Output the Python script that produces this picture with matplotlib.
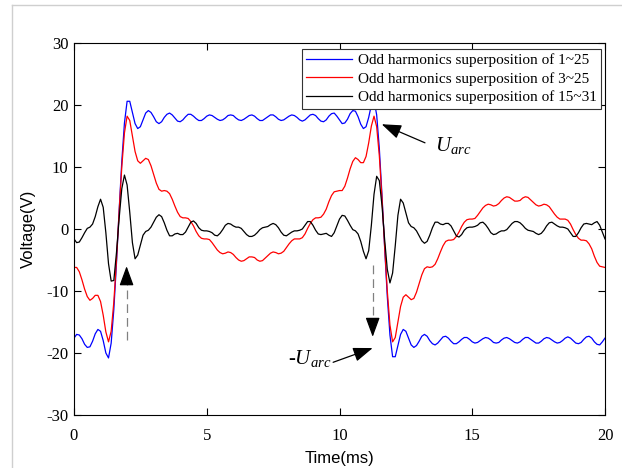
import numpy as np
import matplotlib
matplotlib.use("Agg")
import matplotlib.pyplot as plt
from matplotlib.lines import Line2D

# sampled waveforms, 0.1 ms step over one 20 ms period
t = np.linspace(0, 20, 201)

v_1_25 = [
    -17.6, -17.0, -17.1, -17.7, -18.6, -19.1, -19.0, -18.1, -16.9, -16.2,
    -16.5, -18.0, -20.0, -20.8, -18.4, -13.0, -5.5,
    3.0, 10.9, 17.1, 20.6, 20.6, 18.8, 17.0, 16.2, 16.5, 17.6,
    18.7, 19.1, 18.8, 18.1, 17.3, 17.0, 17.3, 18.0, 18.5, 18.7,
    18.4, 17.9, 17.4, 17.3, 17.6, 18.1, 18.5, 18.5, 18.2, 17.8,
    17.5, 17.5, 17.8, 18.2, 18.4, 18.3, 18.0, 17.7, 17.5, 17.6,
    17.9, 18.3, 18.4, 18.3, 17.9, 17.6, 17.5, 17.7, 18.0, 18.3,
    18.4, 18.2, 17.8, 17.5, 17.5, 17.8, 18.1, 18.4, 18.4, 18.1,
    17.7, 17.5, 17.6, 17.9, 18.2, 18.4, 18.3, 18.0, 17.6, 17.4,
    17.6, 18.0, 18.4, 18.5, 18.3, 17.8, 17.4, 17.3, 17.6, 18.2,
    18.6, 18.7, 18.2, 17.6, 17.0, 17.1, 17.7, 18.6, 19.1, 19.0,
    18.1, 16.9, 16.2, 16.5, 18.0, 20.0, 20.8, 18.4, 13.0, 5.5,
    -3.0, -10.9, -17.1, -20.6, -20.6, -18.8, -17.0, -16.2, -16.5, -17.6,
    -18.7, -19.1, -18.8, -18.1, -17.3, -17.0, -17.3, -18.0, -18.5, -18.7,
    -18.4, -17.9, -17.4, -17.3, -17.6, -18.1, -18.5, -18.5, -18.2, -17.8,
    -17.5, -17.5, -17.8, -18.2, -18.4, -18.3, -18.0, -17.7, -17.5, -17.6,
    -17.9, -18.3, -18.4, -18.3, -17.9, -17.6, -17.5, -17.7, -18.0, -18.3,
    -18.4, -18.2, -17.8, -17.5, -17.5, -17.8, -18.1, -18.4, -18.4, -18.1,
    -17.7, -17.5, -17.6, -17.9, -18.2, -18.4, -18.3, -18.0, -17.6, -17.4,
    -17.6, -18.0, -18.4, -18.5, -18.3, -17.8, -17.4, -17.3, -17.6, -18.2,
    -18.6, -18.7, -18.2, -17.6,
]

v_3_25 = [
    -6.2, -6.2, -6.9, -8.2, -9.7, -10.9, -11.5, -11.2, -10.7, -10.7,
    -11.7, -13.9, -16.6, -18.2, -16.5, -11.8, -5.0,
    2.8, 10.0, 15.5, 18.2, 17.5, 15.0, 12.5, 11.0, 10.6, 11.0,
    11.4, 11.2, 10.2, 8.8, 7.4, 6.4, 6.1, 6.2, 6.1, 5.7,
    4.8, 3.7, 2.7, 2.0, 1.8, 1.8, 1.7, 1.2, 0.5, -0.4,
    -1.1, -1.5, -1.6, -1.6, -1.7, -2.2, -2.8, -3.4, -3.8, -4.0,
    -3.9, -3.7, -3.8, -4.1, -4.6, -5.0, -5.2, -5.1, -4.8, -4.5,
    -4.5, -4.6, -5.0, -5.2, -5.1, -4.7, -4.3, -3.9, -3.7, -3.8,
    -4.0, -3.9, -3.6, -3.0, -2.4, -1.9, -1.6, -1.6, -1.6, -1.4,
    -0.8, 0.1, 0.9, 1.5, 1.8, 1.8, 1.9, 2.4, 3.2, 4.4,
    5.4, 6.0, 6.1, 6.2, 6.2, 6.9, 8.2, 9.7, 10.9, 11.5,
    11.2, 10.7, 10.7, 11.7, 13.9, 16.6, 18.2, 16.5, 11.8, 5.0,
    -2.8, -10.0, -15.5, -18.2, -17.5, -15.0, -12.5, -11.0, -10.6, -11.0,
    -11.4, -11.2, -10.2, -8.8, -7.4, -6.4, -6.1, -6.2, -6.1, -5.7,
    -4.8, -3.7, -2.7, -2.0, -1.8, -1.8, -1.7, -1.2, -0.5, 0.4,
    1.1, 1.5, 1.6, 1.6, 1.7, 2.2, 2.8, 3.4, 3.8, 4.0,
    3.9, 3.7, 3.8, 4.1, 4.6, 5.0, 5.2, 5.1, 4.8, 4.5,
    4.5, 4.6, 5.0, 5.2, 5.1, 4.7, 4.3, 3.9, 3.7, 3.8,
    4.0, 3.9, 3.6, 3.0, 2.4, 1.9, 1.6, 1.6, 1.6, 1.4,
    0.8, -0.1, -0.9, -1.5, -1.8, -1.8, -1.9, -2.4, -3.2, -4.4,
    -5.4, -6.0, -6.1, -6.2,
]

v_15_31 = [
    -1.6, -2.2, -2.1, -1.4, -0.6, 0.1, 0.3, 0.8, 2.0, 3.6,
    4.8, 3.5, -0.6, -5.6, -8.4, -8.3, -3.8,
    1.7, 6.5, 8.7, 7.1, 2.7, -2.2, -4.8, -4.2, -2.6, -1.0,
    -0.4, -0.2, 0.3, 1.1, 1.9, 2.3, 2.0, 1.0, -0.2, -1.1,
    -1.1, -0.8, -0.7, -0.9, -0.9, -0.5, 0.3, 1.1, 1.3, 0.9,
    0.2, -0.2, -0.3, -0.3, -0.4, -0.6, -1.0, -1.1, -0.7, -0.1,
    0.6, 0.9, 0.8, 0.5, 0.3, 0.3, 0.1, -0.4, -0.9, -1.2,
    -1.2, -1.0, -0.6, -0.1, 0.2, 0.3, 0.4, 0.7, 0.9, 0.7,
    0.2, -0.5, -1.0, -1.1, -0.8, -0.5, -0.3, -0.3, -0.2, 0.0,
    0.6, 1.2, 1.2, 0.6, -0.2, -0.8, -0.9, -0.8, -0.7, -1.0,
    -1.2, -0.6, 0.5, 1.6, 2.2, 2.1, 1.4, 0.6, -0.1, -0.3,
    -0.8, -2.0, -3.6, -4.8, -3.5, 0.6, 5.6, 8.5, 7.8, 3.8,
    -1.7, -6.5, -8.7, -7.1, -2.7, 2.2, 4.8, 4.2, 2.6, 1.0,
    0.4, 0.2, -0.3, -1.1, -1.9, -2.3, -2.0, -1.0, 0.2, 1.1,
    1.1, 0.8, 0.7, 0.9, 0.9, 0.5, -0.3, -1.1, -1.3, -0.9,
    -0.2, 0.2, 0.3, 0.3, 0.4, 0.6, 1.0, 1.1, 0.7, 0.1,
    -0.6, -0.9, -0.8, -0.5, -0.3, -0.3, -0.1, 0.4, 0.9, 1.2,
    1.2, 1.0, 0.6, 0.1, -0.2, -0.3, -0.4, -0.7, -0.9, -0.7,
    -0.2, 0.5, 1.0, 1.1, 0.8, 0.5, 0.3, 0.3, 0.2, 0.0,
    -0.6, -1.2, -1.2, -0.6, 0.2, 0.8, 0.9, 0.8, 0.7, 1.0,
    1.2, 0.6, -0.5, -1.6,
]

labels = ["Odd harmonics superposition of 1~25",
          "Odd harmonics superposition of 3~25",
          "Odd harmonics superposition of 15~31"]

plt.rcParams["font.family"] = "Liberation Serif"
plt.rcParams["axes.unicode_minus"] = False
plt.rcParams["mathtext.fontset"] = "custom"
plt.rcParams["mathtext.it"] = "Liberation Serif:italic"
plt.rcParams["mathtext.rm"] = "Liberation Serif"

fig = plt.figure(figsize=(6.22, 4.68), dpi=100)
# light frame of the figure window
fig.add_artist(Line2D([12/622, 12/622], [0, 1 - 5/468], transform=fig.transFigure, color="#cfcfcf", lw=1))
fig.add_artist(Line2D([12/622, 1], [1 - 5/468, 1 - 5/468], transform=fig.transFigure, color="#cfcfcf", lw=1))

ax = fig.add_axes([74/622, 1 - 415/468, 531/622, 372/468])
ax.plot(t, v_1_25, color="#0000ff", lw=0.9, label=labels[0])
ax.plot(t, v_3_25, color="#ff0000", lw=0.9, label=labels[1])
ax.plot(t, v_15_31, color="k", lw=0.9, label=labels[2])

ax.set_xlim(0, 20)
ax.set_ylim(-30, 30)
ax.set_xticks([0, 5, 10, 15, 20])
ax.set_yticks([-30, -20, -10, 0, 10, 20, 30])
ax.tick_params(direction="in", top=True, right=True, length=5, width=0.8, labelsize=12)
ax.tick_params(axis="x", pad=9)
ax.tick_params(axis="y", pad=4)
for s in ax.spines.values():
    s.set_linewidth(0.8)

ax.set_xlabel("Time(ms)", family="Liberation Sans", fontsize=12)
ax.set_ylabel("Voltage(V)", family="Liberation Sans", fontsize=12)
ax.xaxis.set_label_coords(0.5, -0.098)
ax.yaxis.set_label_coords(-0.072, 0.5)

leg = ax.legend(loc="upper right", bbox_to_anchor=(0.9925, 0.984), borderaxespad=0,
                fontsize=11, handlelength=3.0, handletextpad=0.35, labelspacing=0.3,
                borderpad=0.3, fancybox=False, framealpha=1, edgecolor="#333333")
leg.get_frame().set_linewidth(0.8)

# annotations
head = "-|>,head_length=0.6,head_width=0.22"
ax.annotate("", xy=(11.59, 16.9), xytext=(13.22, 13.9),
            arrowprops=dict(arrowstyle=head, color="k", lw=0.9, shrinkA=0, shrinkB=0, mutation_scale=20))
ax.text(13.6, 12.6, r"$U_{arc}$", fontsize=15, ha="left", va="baseline")

ax.annotate("", xy=(11.25, -19.2), xytext=(9.76, -21.5),
            arrowprops=dict(arrowstyle=head, color="k", lw=0.9, shrinkA=0, shrinkB=0, mutation_scale=20))
ax.text(8.05, -21.8, r"-$U_{arc}$", fontsize=15, ha="left", va="baseline")

# dashed gray arrows at the two edges
ax.plot([1.98, 1.98], [-17.9, -7.5], color="#808080", lw=0.9, dashes=(7, 4))
ax.annotate("", xy=(1.98, -6.0), xytext=(1.98, -8.5),
            arrowprops=dict(arrowstyle=head, color="k", lw=0.9, shrinkA=0, shrinkB=0, mutation_scale=20))
ax.plot([11.25, 11.25], [-5.8, -16.0], color="#808080", lw=0.9, dashes=(7, 4))
ax.annotate("", xy=(11.25, -17.4), xytext=(11.25, -14.9),
            arrowprops=dict(arrowstyle=head, color="k", lw=0.9, shrinkA=0, shrinkB=0, mutation_scale=20))

fig.savefig("out.png", dpi=100)
